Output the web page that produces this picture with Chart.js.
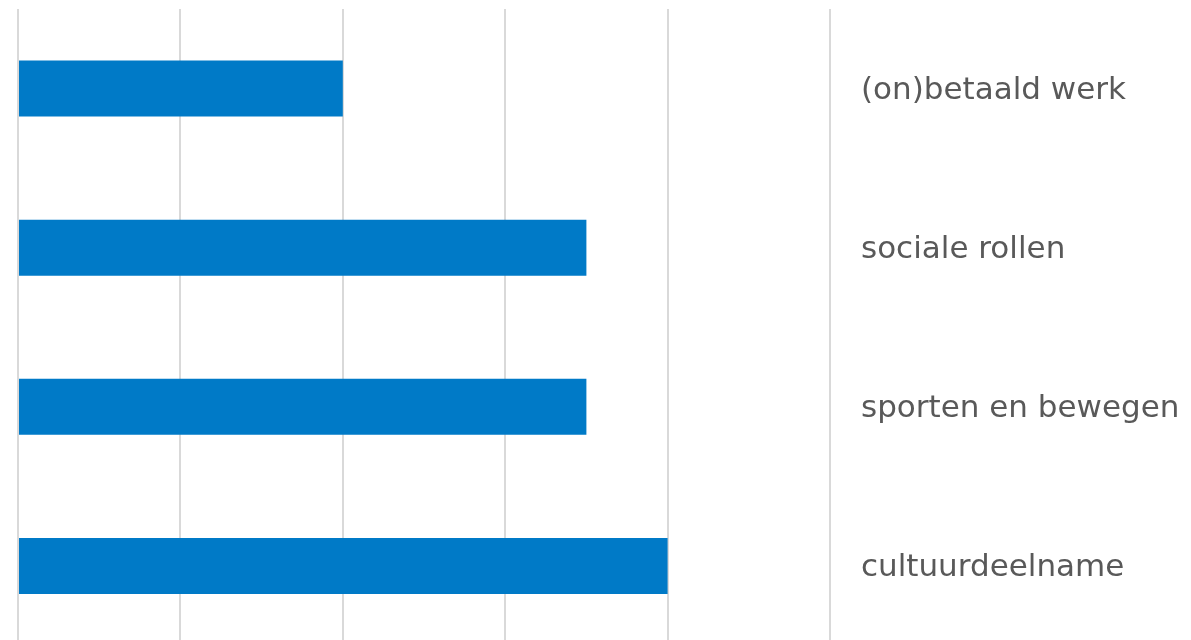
<!DOCTYPE html>
<html>
<head>
<meta charset="utf-8">
<script src="https://cdn.jsdelivr.net/npm/chart.js@4/dist/chart.umd.min.js"></script>
<style>
  html, body { margin: 0; padding: 0; background: #ffffff; overflow: hidden; }
  #wrap { position: relative; width: 1191px; height: 647px; }
</style>
</head>
<body>
<div id="wrap"><canvas id="chart"></canvas></div>
<script>
// Participation domains and their scores
const categories = ['(on)betaald werk', 'sociale rollen', 'sporten en bewegen', 'cultuurdeelname'];
const scores = [2, 3.5, 3.5, 4];
const axisMin = 0;
const axisMax = 5;
const axisStep = 1;

new Chart(document.getElementById('chart'), {
  type: 'bar',
  data: {
    labels: categories,
    datasets: [{
      data: scores,
      backgroundColor: '#007AC7',
      borderWidth: 0,
      categoryPercentage: 1,
      barPercentage: 0.352
    }]
  },
  options: {
    indexAxis: 'y',
    responsive: true,
    maintainAspectRatio: false,
    animation: false,
    layout: { padding: { left: 18, top: 9, right: 0, bottom: 0 } },
    plugins: { legend: { display: false }, tooltip: { enabled: false } },
    scales: {
      x: {
        min: axisMin,
        max: axisMax,
        ticks: { display: false, stepSize: axisStep },
        grid: { color: '#d9d9d9', lineWidth: 2, drawTicks: false },
        border: { display: false }
      },
      y: {
        position: 'right',
        // labels sit 31px right of the plot; the gap comes from an invisible tick mark
        grid: {
          display: true,
          drawOnChartArea: false,
          drawTicks: true,
          tickLength: 31,
          color: 'rgba(0,0,0,0)'
        },
        border: { display: false },
        ticks: {
          color: '#595959',
          padding: 0,
          labelOffset: 2,
          font: { family: 'DejaVu Sans', size: 31, lineHeight: 0.1 }
        },
        afterFit: (scale) => { scale.width = 361; }
      }
    }
  }
});
</script>
</body>
</html>
